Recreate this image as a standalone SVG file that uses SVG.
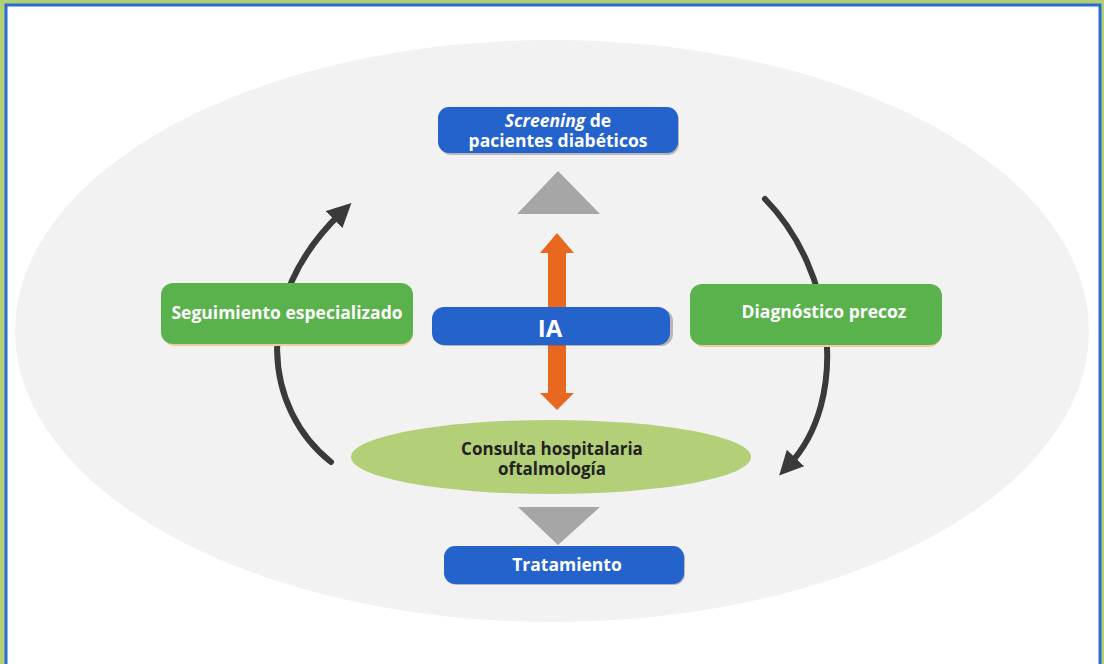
<svg xmlns="http://www.w3.org/2000/svg" width="1104" height="664" viewBox="0 0 1104 664">
<defs>
<style>
.t{font-family:"Open Sans","Noto Sans",sans-serif;font-weight:bold;fill:#fff;text-anchor:middle}
.blue{fill:#2563cc}
.green{fill:#5ab24c}
.shadow{fill:#4a4a4a;opacity:0.35}
.arc{fill:none;stroke:#3a3a3a;stroke-width:6;stroke-linecap:round}
.tri{fill:#a6a6a6}
</style>
<marker id="ah" viewBox="0 0 10 10" refX="4" refY="5" markerWidth="24" markerHeight="24" markerUnits="userSpaceOnUse" orient="auto">
<path d="M0,0 L10,5 L0,10 Z" fill="#3a3a3a"/>
</marker>
</defs>
<rect x="0" y="0" width="1104" height="664" fill="#b2cf73"/>
<rect x="6" y="5" width="1094" height="662" fill="#fff" stroke="#2a6ad6" stroke-width="3"/>
<ellipse cx="552" cy="331" rx="537" ry="291" fill="#f2f2f2"/>

<g id="connectors">
<path class="arc" d="M331,462 C 265,410 250,300 341,213" marker-end="url(#ah)"/>
<path class="arc" d="M765,199 C 835,270 850,400 789,465" marker-end="url(#ah)"/>
<polygon class="tri" points="558,171 600,214 517,214"/>
<polygon class="tri" points="518,507 600,507 558,545"/>
<polygon fill="#e8681f" points="557,233 574,253 566,253 566,393 574,393 557,410 540,393 548,393 548,253 540,253"/>
</g>

<g id="screening">
<rect class="shadow" x="440" y="109" width="239" height="46" rx="11"/>
<rect class="blue" x="438" y="107" width="240" height="46" rx="11"/>
<text class="t" x="558" y="127" font-size="17.5"><tspan font-style="italic">Screening</tspan> de</text>
<text class="t" x="558" y="147" font-size="17.5">pacientes diabéticos</text>
</g>

<g id="ia">
<rect class="shadow" x="434" y="309" width="239" height="37" rx="12"/>
<rect class="blue" x="432" y="307" width="238" height="38" rx="12"/>
<text class="t" x="550" y="337" font-size="24">IA</text>
</g>

<g id="seguimiento">
<rect fill="#f3c9a0" x="163" y="286" width="250" height="60" rx="12"/>
<rect class="green" x="161" y="283" width="252" height="61" rx="12"/>
<text class="t" x="287" y="319" font-size="17.5">Seguimiento especializado</text>
</g>

<g id="diagnostico">
<rect fill="#f3c9a0" x="692" y="287" width="249" height="60" rx="12"/>
<rect class="green" x="690" y="284" width="252" height="61" rx="12"/>
<text class="t" x="824" y="318" font-size="17.5">Diagnóstico precoz</text>
</g>

<g id="consulta">
<ellipse cx="551" cy="457" rx="200" ry="37" fill="#b3cf78"/>
<text class="t" x="552" y="455" font-size="17" style="fill:#222">Consulta hospitalaria</text>
<text class="t" x="552" y="475" font-size="17" style="fill:#222">oftalmología</text>
</g>

<g id="tratamiento">
<rect class="shadow" x="446" y="548" width="239" height="37" rx="11"/>
<rect class="blue" x="444" y="546" width="240" height="38" rx="11"/>
<text class="t" x="567" y="571" font-size="17.5">Tratamiento</text>
</g>
</svg>
